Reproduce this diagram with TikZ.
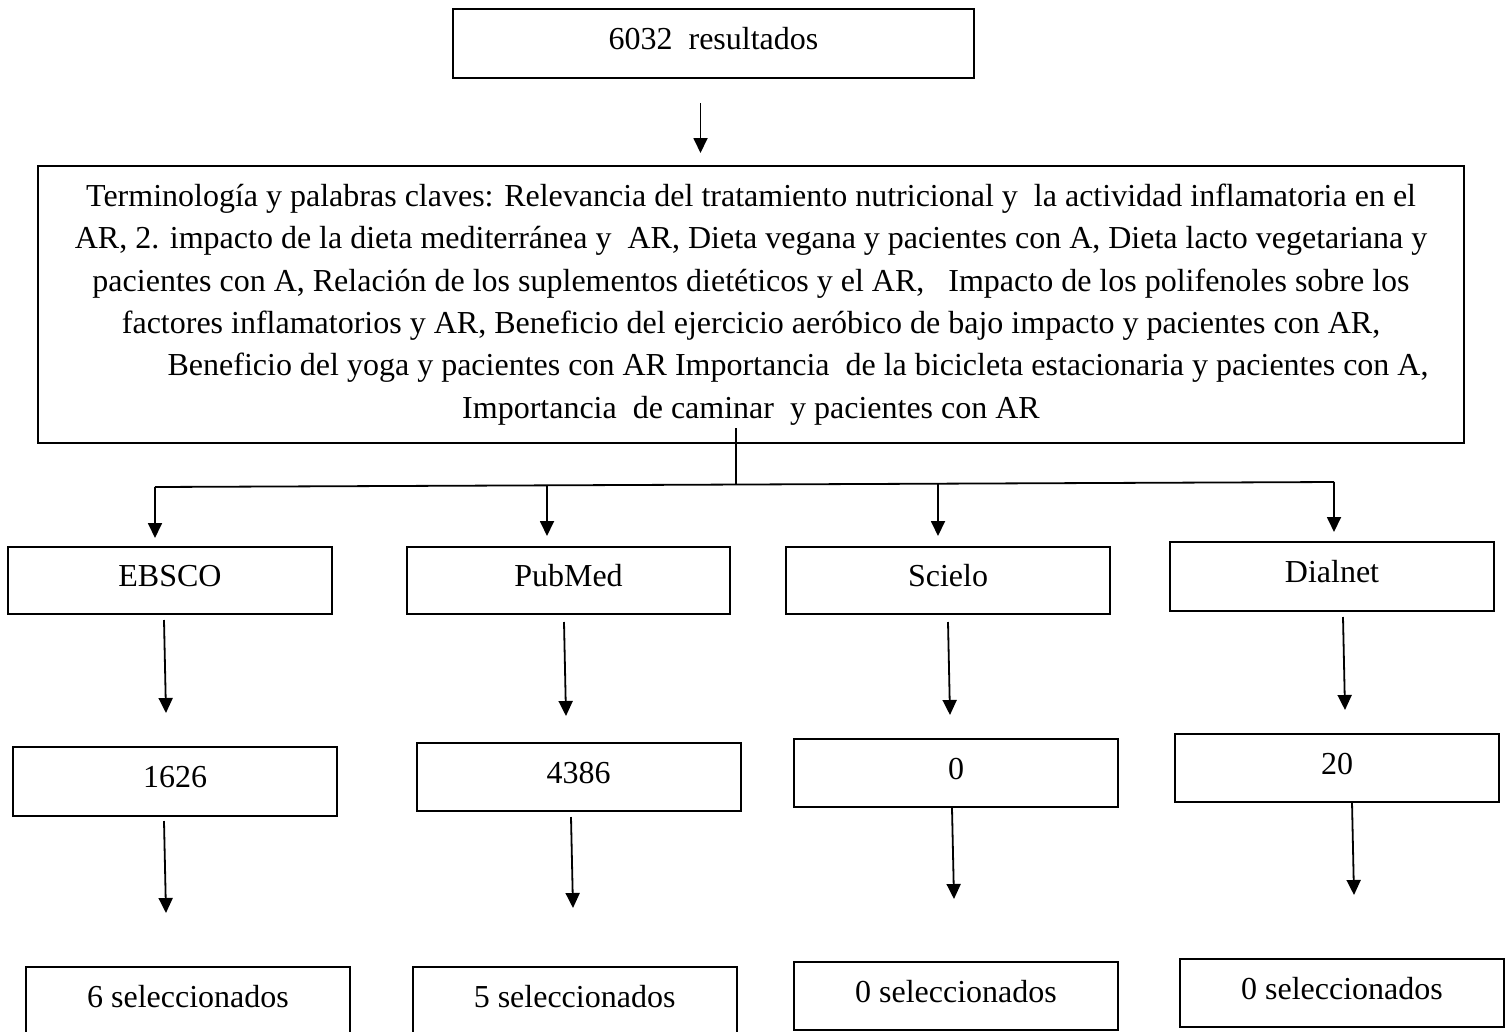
\documentclass[tikz,border=0pt]{standalone}
\usepackage{fontspec}
\setmainfont{Liberation Serif}
\usetikzlibrary{arrows.meta}
\begin{document}
\begin{tikzpicture}[x=1pt,y=-1pt,
  box/.style={draw,line width=2pt,inner sep=0pt,text height=22.4pt,text depth=9.6pt,
    font=\fontsize{32}{42.4}\selectfont},
  conn/.style={line width=1.8pt},
  arr/.style={conn,-{Triangle[width=14pt,length=15pt]}}]
\useasboundingbox (0,0) rectangle (1510,1031);

% top
\node[box,minimum width=521pt,minimum height=69pt] (top) at (713.5,43.5) {6032\ \ resultados};
\node[draw,line width=2pt,inner sep=0pt,minimum width=1426pt,minimum height=277pt,
  align=center,font=\fontsize{32}{42.4}\selectfont] (big) at (751,304.5)
  {Terminología y palabras claves: Relevancia del tratamiento nutricional y\ \ la actividad inflamatoria en el\\
   AR, 2. impacto de la dieta mediterránea y\ \ AR, Dieta vegana y pacientes con A, Dieta lacto vegetariana y\\
   pacientes con A, Relación de los suplementos dietéticos y el AR,\ \ \ Impacto de los polifenoles sobre los\\
   factores inflamatorios y AR, Beneficio del ejercicio aeróbico de bajo impacto y pacientes con AR,\\
   \hspace*{94pt}Beneficio del yoga y pacientes con AR Importancia\ \ de la bicicleta estacionaria y pacientes con A,\\
   Importancia\ \ de caminar\ \ y pacientes con AR};

% row 1
\node[box,minimum width=324pt,minimum height=67pt] (ebsco) at (170,580.5) {EBSCO};
\node[box,minimum width=323pt,minimum height=67pt] (pubmed) at (568.5,580.5) {PubMed};
\node[box,minimum width=324pt,minimum height=67pt] (scielo) at (948,580.5) {Scielo};
\node[box,minimum width=324pt,minimum height=69pt] (dialnet) at (1332,576.5) {Dialnet};

% row 2
\node[box,minimum width=323.5pt,minimum height=69pt] (r1626) at (175,781.5) {1626};
\node[box,minimum width=324pt,minimum height=68pt] (r4386) at (578.5,777) {4386};
\node[box,minimum width=323.5pt,minimum height=68pt] (r0) at (956,773) {0};
\node[box,minimum width=324pt,minimum height=68pt] (r20) at (1337,768) {20};

% row 3
\node[box,minimum width=324.5pt,minimum height=68pt] (s1) at (188,1001) {6 seleccionados};
\node[box,minimum width=324pt,minimum height=68pt] (s2) at (574.6,1001) {5 seleccionados};
\node[box,minimum width=323.5pt,minimum height=68pt] (s3) at (956,996) {0 seleccionados};
\node[box,minimum width=324pt,minimum height=68pt] (s4) at (1342,993) {0 seleccionados};

% connector coordinates
\coordinate (a0s) at (700.5,103);
\coordinate (a0e) at (700.5,153);
\coordinate (j0) at (736,428);
\coordinate (j1) at (736,484.5);
\coordinate (hL) at (155,487);
\coordinate (hP) at (547,485.3);
\coordinate (hS) at (938,483.7);
\coordinate (hR) at (1334,482);
\coordinate (tE) at (155,538);
\coordinate (tP) at (547,536);
\coordinate (tS) at (938,536);
\coordinate (tD) at (1334,532);

\coordinate (e1s) at (164,620);  \coordinate (e1e) at (166,713);
\coordinate (p1s) at (564,622);  \coordinate (p1e) at (566,716);
\coordinate (c1s) at (948,622);  \coordinate (c1e) at (950,715);
\coordinate (d1s) at (1343,617); \coordinate (d1e) at (1345,710);
\coordinate (e2s) at (164,821);  \coordinate (e2e) at (166,913);
\coordinate (p2s) at (571,817);  \coordinate (p2e) at (573,908);
\coordinate (c2s) at (952,808);  \coordinate (c2e) at (954,899);
\coordinate (d2s) at (1352,802); \coordinate (d2e) at (1354,895);

% connectors
\draw[arr] (a0s) -- (a0e);
\draw[conn] (j0) -- (j1);
\draw[conn] (hL) -- (hR);
\draw[arr] (hL) -- (tE);
\draw[arr] (hP) -- (tP);
\draw[arr] (hS) -- (tS);
\draw[arr] (hR) -- (tD);

\draw[arr] (e1s) -- (e1e);
\draw[arr] (p1s) -- (p1e);
\draw[arr] (c1s) -- (c1e);
\draw[arr] (d1s) -- (d1e);
\draw[arr] (e2s) -- (e2e);
\draw[arr] (p2s) -- (p2e);
\draw[arr] (c2s) -- (c2e);
\draw[arr] (d2s) -- (d2e);
\end{tikzpicture}
\end{document}
